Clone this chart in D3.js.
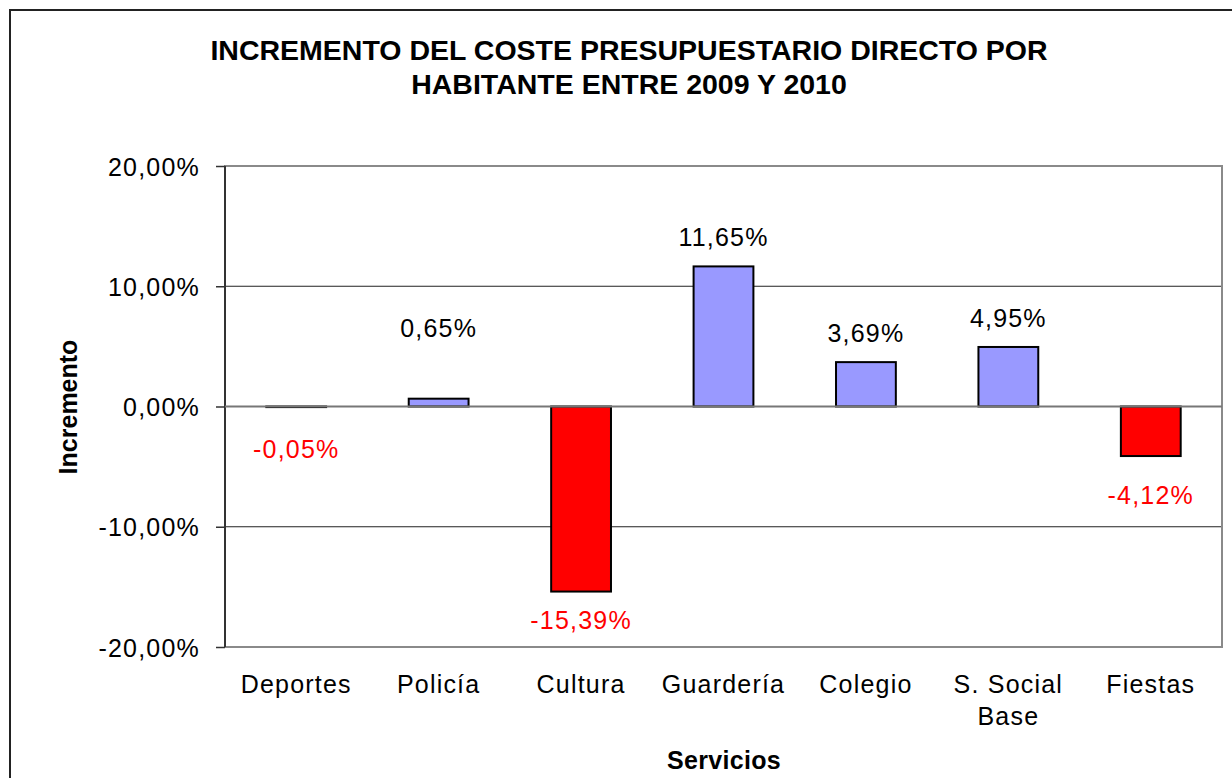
<!DOCTYPE html>
<html>
<head>
<meta charset="utf-8">
<script src="https://cdn.jsdelivr.net/npm/d3@7"></script>
<style>
  html, body { margin: 0; padding: 0; background: #fff; }
  svg { display: block; }
  text { font-family: "Liberation Sans", Arial, sans-serif; }
</style>
</head>
<body>
<svg id="chart" width="1232" height="778"></svg>
<script>
// Servicios y su incremento del coste por habitante (%)
const categories = [["Deportes"], ["Policía"], ["Cultura"], ["Guardería"], ["Colegio"], ["S. Social", "Base"], ["Fiestas"]];
const values = [-0.05, 0.65, -15.39, 11.65, 3.69, 4.95, -4.12];
const valueLabels = ["-0,05%", "0,65%", "-15,39%", "11,65%", "3,69%", "4,95%", "-4,12%"];
const yTicks = [-20, -10, 0, 10, 20];
const yTickLabels = ["-20,00%", "-10,00%", "0,00%", "10,00%", "20,00%"];
const titleLines = ["INCREMENTO DEL COSTE PRESUPUESTARIO DIRECTO POR", "HABITANTE ENTRE 2009 Y 2010"];

// Ajustes manuales de posición de algunas etiquetas (px, + hacia abajo)
const labelNudge = { "Deportes": 14, "Policía": -42, "Fiestas": 11 };

const FONT = "25px", SPACING = "1.2px";

const svg = d3.select("#chart");
const W = 1232, H = 778;
const plot = { left: 225, right: 1222, top: 166, bottom: 647 };

// Marco exterior
svg.append("rect")
  .attr("x", 10).attr("y", 10)
  .attr("width", W + 20).attr("height", H + 20)
  .attr("fill", "#fff").attr("stroke", "#222").attr("stroke-width", 2);

const x = d3.scaleBand()
  .domain(categories.map(c => c.join(" ")))
  .range([plot.left, plot.right])
  .paddingInner(0.58).paddingOuter(0.29);

const y = d3.scaleLinear().domain([-20, 20]).range([plot.bottom, plot.top]);

// Líneas de cuadrícula
svg.append("g").selectAll("line")
  .data(yTicks.filter(t => t !== 0 && Math.abs(t) !== 20))
  .join("line")
  .attr("x1", plot.left).attr("x2", plot.right)
  .attr("y1", d => y(d)).attr("y2", d => y(d))
  .attr("stroke", "#222").attr("stroke-width", 1.2);

// Borde del área de trazado
svg.append("rect")
  .attr("x", plot.left).attr("y", plot.top)
  .attr("width", plot.right - plot.left).attr("height", plot.bottom - plot.top)
  .attr("fill", "none").attr("stroke", "#8a8a8a").attr("stroke-width", 2);

// Eje vertical
const yAxis = d3.axisLeft(y)
  .tickValues(yTicks)
  .tickFormat((d, i) => yTickLabels[i])
  .tickSize(9).tickPadding(16);

const gy = svg.append("g")
  .attr("transform", `translate(${plot.left},0)`)
  .call(yAxis);
gy.select(".domain").attr("stroke", "#333").attr("stroke-width", 2).attr("d", `M0,${plot.top}V${plot.bottom}`);
gy.selectAll(".tick line").attr("stroke", "#333").attr("stroke-width", 1.5);
gy.selectAll(".tick text")
  .attr("fill", "#000")
  .style("font-size", FONT)
  .style("letter-spacing", SPACING)
  .attr("dy", "0.36em");

// Barras
svg.append("g").selectAll("rect")
  .data(values)
  .join("rect")
  .attr("x", (d, i) => x(categories[i].join(" ")))
  .attr("width", x.bandwidth())
  .attr("y", d => y(Math.max(0, d)))
  .attr("height", d => Math.abs(y(d) - y(0)))
  .attr("fill", d => d < 0 ? "#FF0000" : "#9999FF")
  .attr("stroke", "#000").attr("stroke-width", 2);

// Línea del cero
svg.append("line")
  .attr("x1", plot.left).attr("x2", plot.right)
  .attr("y1", y(0)).attr("y2", y(0))
  .attr("stroke", "#777").attr("stroke-width", 2);

// Etiquetas de valor
svg.append("g").selectAll("text")
  .data(values)
  .join("text")
  .attr("x", (d, i) => x(categories[i].join(" ")) + x.bandwidth() / 2)
  .attr("y", (d, i) => {
    const nudge = labelNudge[categories[i].join(" ")] || 0;
    const center = d >= 0 ? y(d) - 29 : y(d) + 28;
    return center + 9 + nudge;
  })
  .attr("text-anchor", "middle")
  .attr("fill", d => d < 0 ? "#FF0000" : "#000")
  .style("font-size", FONT)
  .style("letter-spacing", SPACING)
  .text((d, i) => valueLabels[i]);

// Etiquetas de categoría
const catG = svg.append("g").selectAll("text")
  .data(categories)
  .join("text")
  .attr("x", c => x(c.join(" ")) + x.bandwidth() / 2)
  .attr("y", 693)
  .attr("text-anchor", "middle")
  .attr("fill", "#000")
  .style("font-size", FONT)
  .style("letter-spacing", SPACING);
catG.selectAll("tspan")
  .data(c => c)
  .join("tspan")
  .attr("x", function () { return this.parentNode.getAttribute("x"); })
  .attr("dy", (d, i) => i === 0 ? 0 : 32)
  .text(d => d);

// Título
svg.append("g").selectAll("text")
  .data(titleLines)
  .join("text")
  .attr("x", 629)
  .attr("y", (d, i) => 60 + i * 34)
  .attr("text-anchor", "middle")
  .attr("fill", "#000")
  .style("font-size", "28.5px")
  .style("font-weight", "bold")
  .text(d => d);

// Títulos de los ejes
svg.append("text")
  .attr("transform", "translate(77,407) rotate(-90)")
  .attr("text-anchor", "middle")
  .style("font-size", "25px")
  .style("font-weight", "bold")
  .text("Incremento");

svg.append("text")
  .attr("x", 724).attr("y", 769)
  .attr("text-anchor", "middle")
  .style("font-size", "25px")
  .style("font-weight", "bold")
  .style("letter-spacing", "0.3px")
  .text("Servicios");
</script>
</body>
</html>
